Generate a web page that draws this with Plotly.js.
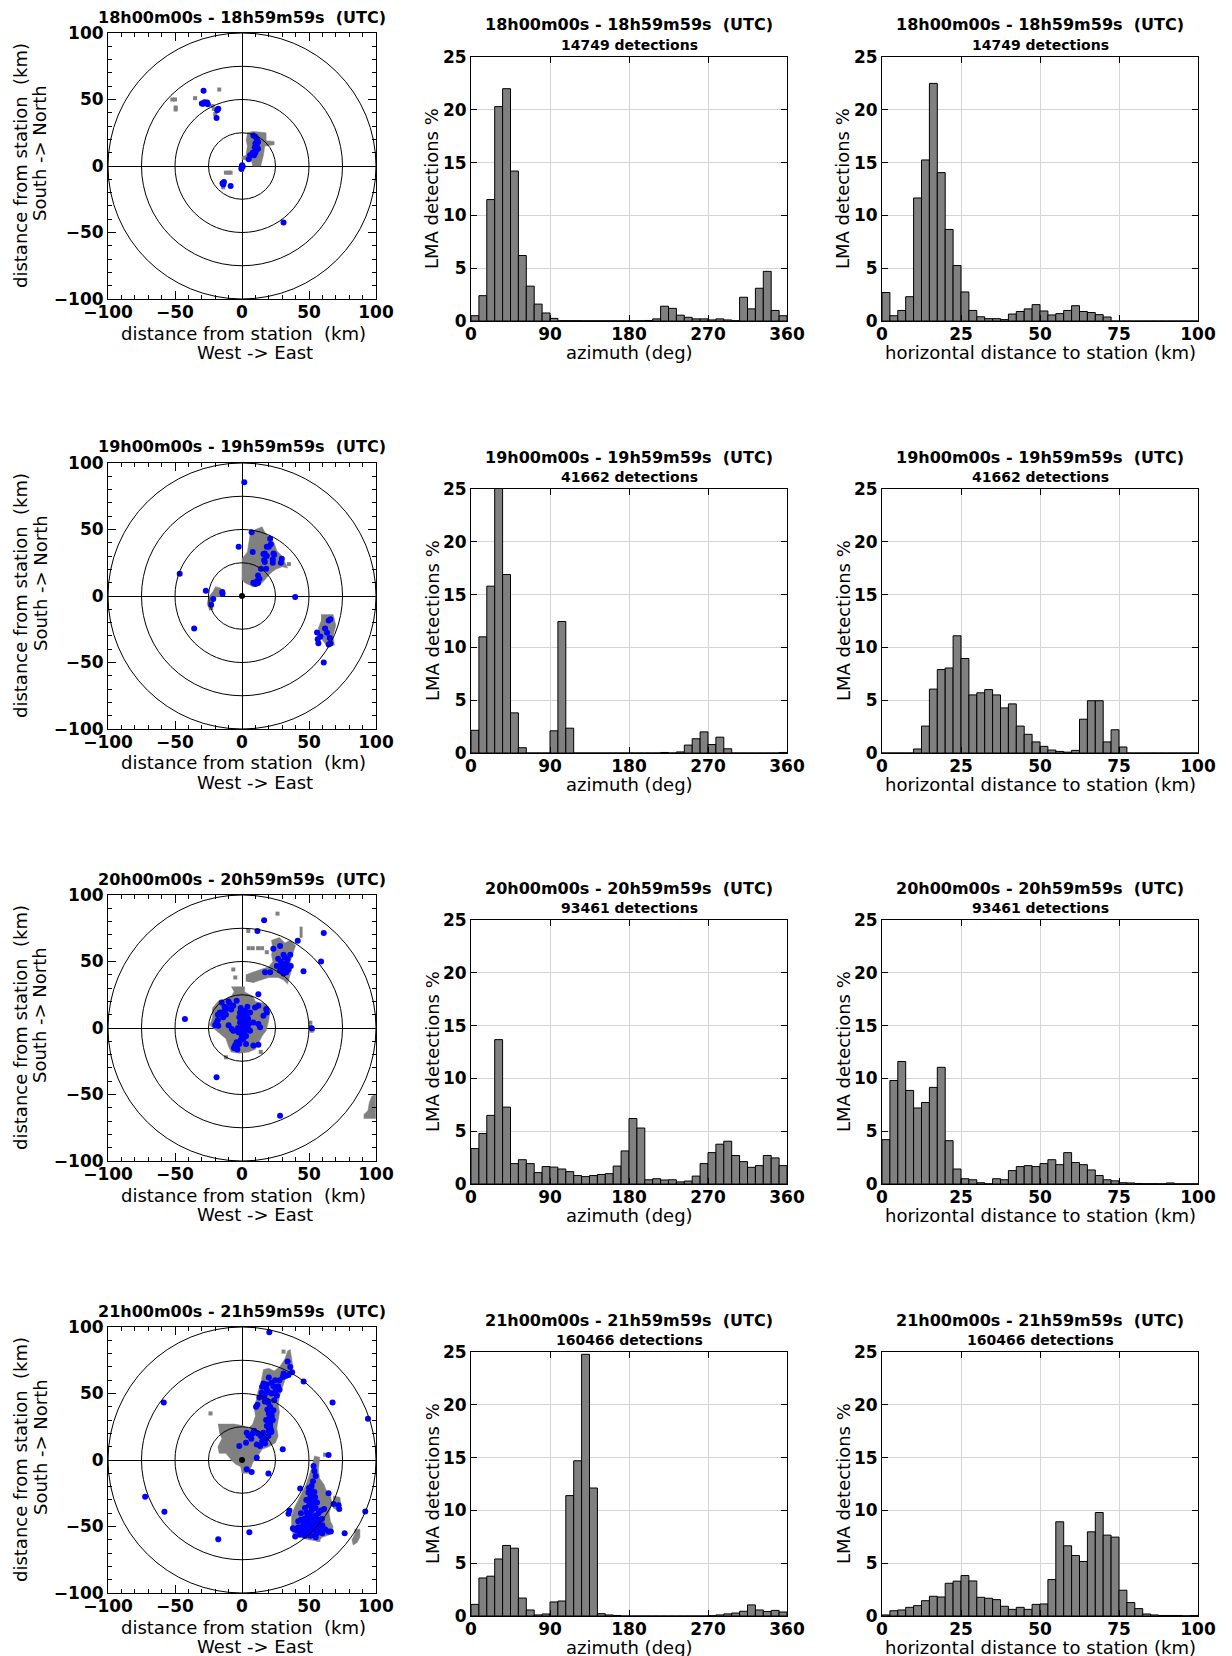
<!DOCTYPE html>
<html><head><meta charset="utf-8">
<script src="https://cdn.plot.ly/plotly-3.0.1.min.js"></script>
<style>body{margin:0;background:#fff}#chart{width:1232px;height:1656px}</style>
</head><body><div id="chart"></div>
<script>
// ---------------- DATA ----------------
const panelTitles = ['18h00m00s - 18h59m59s\u00a0 (UTC)', '19h00m00s - 19h59m59s\u00a0 (UTC)', '20h00m00s - 20h59m59s\u00a0 (UTC)', '21h00m00s - 21h59m59s\u00a0 (UTC)'];
const detectionCounts = [14749, 41662, 93461, 160466];
const ringRadii = [25, 50, 75, 100];
const mapTicks = [-100, -50, 0, 50, 100];
const azimuthTicks = [0, 90, 180, 270, 360];
const distanceTicks = [0, 25, 50, 75, 100];
const percentTicks = [0, 5, 10, 15, 20, 25];
const azimuthBinWidth = 9;     // deg
const distanceBinWidth = 2.5;  // km
const stationXY = [0, 0];
const mapXTitle = ['distance from station\u00a0 (km)', 'West -> East'];
const mapYTitle = ['distance from station\u00a0 (km)', 'South -> North'];
const azimuthTitle = 'azimuth (deg)';
const distanceTitle = 'horizontal distance to station (km)';
const percentTitle = 'LMA detections %';

// azimuth histograms (% of detections per 9 deg bin, 0..360)
const azimuth18 = [0.5,2.4,11.5,20.3,22.0,14.2,6.2,3.3,1.6,0.76, 0.25,0.03,0.03,0.03,0.02,0.02,0.02,0.02,0.02,0.02, 0.02,0.03,0.05,0.2,1.4,1.2,0.55,0.35,0.2,0.2, 0.1,0.2,0.1,0.03,2.25,1.15,3.1,4.7,1.0,0.5];
const azimuth19 = [2.15,11.0,15.8,26.0,16.9,3.8,0.5,0,0,0, 2.1,12.45,2.35,0,0,0,0,0,0,0, 0,0,0,0,0.05,0,0.1,0.75,1.35,2.0, 0.8,1.5,0.4,0,0,0,0,0,0,0.05];
const azimuth20 = [3.35,4.78,6.5,13.67,7.28,1.93,2.3,1.93,1.08,1.65, 1.6,1.42,1.17,0.8,0.7,0.8,0.9,0.98,1.7,3.13, 6.2,5.3,0.4,0.5,0.38,0.4,0.2,0.28,0.75,1.93, 2.97,3.77,4.05,2.7,2.12,1.58,1.74,2.7,2.47,1.74];
const azimuth21 = [1.1,3.6,3.77,5.4,6.68,6.42,1.7,0.57,0.1,0.19, 1.33,1.42,11.4,14.7,24.78,12.12,0.22,0.1,0.05,0, 0,0,0,0,0,0,0,0,0,0, 0.03,0.1,0.2,0.28,0.45,1.05,0.57,0.42,0.53,0.38];

// horizontal distance histograms (% per 2.5 km bin, 0..100)
const distance18 = [2.7,0.5,1.0,2.3,11.65,15.25,22.5,14.05,8.67,5.25, 2.75,1.0,0.4,0.22,0.22,0.13,0.66,0.9,1.15,1.55, 0.95,0.57,0.7,1.0,1.45,0.9,0.8,0.6,0.38,0, 0,0,0,0,0,0,0,0,0,0];
const distance19 = [0,0,0,0,0.38,2.55,6.05,7.9,8.05,11.1, 8.95,5.5,5.7,6.0,5.5,4.27,4.65,2.55,1.77,1.05, 0.63,0.28,0.15,0.08,0.25,3.2,4.95,4.95,1.05,2.2, 0.57,0,0,0,0,0,0,0,0,0];
const distance20 = [4.2,9.8,11.6,8.86,7.2,7.72,9.15,11.05,4.1,1.42, 0.5,0.4,0.12,0.02,0.5,0.4,1.27,1.65,1.74,1.65, 1.93,2.3,1.83,2.97,2.03,1.83,1.33,0.8,0.4,0.3, 0.12,0.1,0.05,0.03,0.03,0.02,0.1,0.02,0.02,0.02];
const distance21 = [0.1,0.5,0.57,0.82,0.98,1.45,1.87,1.8,3.1,3.3, 3.83,3.32,1.77,1.68,1.55,0.92,0.63,0.82,0.63,1.1, 1.14,3.45,8.92,6.65,5.73,5.16,7.97,9.8,7.66,7.47, 2.44,1.27,0.7,0.19,0.1,0.05,0.05,0.05,0.02,0.05];

// map: blue source points (km east, km north)
const blue18 = [[-28.7,56.5],[-30,47],[-28,48],[-27,47.5],[-25.5,46.5],[-26,47.8],[-29,46.8],[-17.7,43],[-18.5,42],[-19,36],[0.2,0.5],[-0.5,-2],[0.5,-0.5],[8.5,23],[10,22],[11,20.5],[10,17],[9.5,14],[10.5,12],[8,10],[6,8],[5,5],[9,8],[12,13],[11,15],[10,10],[12,18],[-14.5,-13],[-13.5,-12],[-14,-14],[-8.5,-15],[31,-42.5]];
const blue19 = [[1.7,85.5],[7.2,48],[-2.5,37],[-46.5,16.7],[-27,4],[-14.7,3],[-14.5,1.7],[-21.5,-2.2],[-23,-6.5],[-35.7,-24.5],[39.7,-0.7],[21,43],[21.5,39],[18.5,37],[20,37],[23.5,32],[24,31],[16,31.5],[17,32],[18.5,30],[16.5,27],[17,25.5],[23,27.5],[23,25],[29.7,28],[29,25],[8,33],[14.2,20.5],[18,20.5],[12,15.5],[13,13],[11,11],[10,9],[8.5,10],[11,9.5],[12,10],[56,-27.5],[56.5,-32.5],[57,-35.5],[58.5,-30.5],[62,-24.5],[63.5,-27.7],[64.7,-18.5],[66,-17.5],[65.5,-31.5],[66,-35.7],[64.7,-36.5],[61,-50]];
const blue20 = [[16.5,81],[11.5,73],[61,71.5],[41.6,65.6],[28.4,61.6],[23.4,59.6],[59,50],[45.9,42.6],[31,55],[32,53],[27,52],[33.4,49],[29.7,47],[26,46.6],[32,45.4],[34.7,44],[28.4,43],[31,41],[36,55],[34,51.6],[29,50],[36.4,46.6],[33,42],[30,44],[32,48],[34,46],[17.2,42],[21,42],[12.2,25.4],[-15.2,19.2],[-9,18],[-4,20.4],[-6.5,16.7],[-11.5,14.2],[-16.5,11.7],[-19,4.2],[-17.7,1.7],[-14,8],[-12,10],[-7.7,-0.7],[-6.5,-2],[-1.5,4.2],[2.2,13],[3.5,9.2],[4.7,6.7],[2.2,3],[1,-0.7],[-0.2,-5.7],[-4,-10.7],[-5.2,-13.2],[-3.5,-16.2],[1,-8.2],[3.5,1.7],[8.5,4.2],[12.2,3],[13.5,0.5],[9.7,15.5],[12.2,16.7],[16,9.2],[18,14.2],[18.5,11.7],[8.5,-13.2],[12.2,-12.5],[6,11.7],[-1.5,11.7],[1,9.2],[4.7,-0.7],[-2.7,-3.2],[-18,6],[-13,16],[0,0],[2,-3],[-2,8],[0,6],[2,6],[-3,0],[0,-3],[-1,-9],[-2,-12],[-4,-14],[-6,-15],[3,-6],[-10,2],[-14,12],[-8,14],[-10,20],[-18,10],[-20,2],[4,16],[6,-2],[3,-12],[-1,15],[0,12],[5,3],[-42.6,6.7],[52,-0.2],[-19,-37],[28.4,-66]];
const blue21 = [[20.4,96],[34,74],[37.4,66],[30.4,62.4],[33,63.4],[34.7,64],[46,59],[20,62],[24.7,60],[16,57.5],[18.5,56.7],[23.5,55.5],[27,55.5],[28,52.9],[14.7,50.5],[17,49],[16,47.5],[18.5,53],[20,51],[26,48.5],[11.5,41.6],[10.5,40],[19.7,43],[21,40],[23.5,37.5],[22,35],[22.2,33],[20,31],[19.7,29],[21,27],[18.5,25.5],[21.5,23],[20,22],[16,20.5],[19.7,18],[17,16],[15,14],[3.5,20.5],[4.7,18.5],[3,13],[6,18],[8,20],[11,11.7],[13.5,10.5],[17.2,12.5],[-2,10.5],[30.4,8],[11,1.7],[3.5,-7],[7.2,-9],[19.7,-10.2],[18,45],[17,44],[19,38],[20,35],[21,25],[22,21],[18,16],[14,18],[12,20],[9,22],[7,16],[18,30],[23,30],[24,45],[22,50],[25,52],[13,47],[15,55],[22,58],[28,60],[31,65],[36,70],[-58.4,43.3],[94,31],[67.6,43.3],[64.6,3.7],[-72.3,-27.7],[-57.9,-39],[-17.7,-59.6],[5.5,-54.4],[92,-38.7],[76.6,-55],[66.3,-53.8],[53.4,-4.5],[54,-8.2],[52,-19.4],[49.6,-24.4],[52,-27],[54.6,-28],[51,-30.6],[53.4,-31.8],[43.4,-21.4],[64.6,-25],[61.3,-36.8],[68.3,-33],[72,-34],[72.6,-36.8],[35.4,-38],[34.7,-40.5],[38,-51.4],[39.7,-57.6],[51,-56.9],[54.6,-56.9],[52,-38],[48.4,-39.4],[54.6,-41.9],[49.6,-44.4],[53.4,-46.9],[57,-48],[46,-49.3],[42,-50.5],[51,-51.8],[58.6,-51.8],[48.6,-53],[43.6,-53],[55.8,-44.4],[59.6,-44.4],[38.4,-51.8],[64.6,-53.8],[50,-34],[52,-23],[50,-47],[47,-52],[53,-53],[56,-50],[45,-54],[55,-36],[51,-42],[56,-55],[40,-52],[44,-45],[46,-47],[48,-48],[50,-50],[52,-49],[54,-51],[56,-53],[58,-50],[60,-49],[57,-45],[53,-43],[49,-41],[47,-44],[45,-50],[41,-53],[43,-56],[47,-57],[50,-55],[55,-58],[60,-55],[62,-52],[53,-34],[51,-28],[54,-24],[50,-21],[53,-16],[55,-12],[48,-30],[56,-32],[52,-36],[57,-40],[59,-38],[47,-36],[44,-40],[42,-46]];

// map: grey density regions (polygons) and isolated grey cells
const grayRegions18 = [
  [[4,25],[8,26],[18,25],[18,19],[24,18.5],[24,16],[17,15],[16,8],[14,0],[8,0],[7,4],[0,5],[0,7],[3,8],[4,15],[3,20]]
];
const grayCells18 = [[-52,50],[-50,50],[-49.5,44],[-49.5,42.5],[-35,51],[-17,57.5],[-22,45],[-21,43],[-20,39],[-12,-5],[-10,-5],[-8.5,-5],[-14,-16],[-15,-13],[0,-3]];
const grayRegions19 = [
  [[0,12],[0,28],[4,33],[5,40],[6,46],[10,50],[15,52],[17,48],[20,45],[24,40],[26,34],[30,30],[34,21],[30,22],[25,20],[21,17],[17,12],[13,8],[8,7],[4,9],[2,10]],
  [[-20,7],[-16,6],[-14,3],[-15,0],[-20,-1],[-22,-6],[-24,-11],[-26,-6],[-25,-1],[-22,3]],
  [[59,-14],[68,-14],[70,-22],[68,-30],[69,-37],[63,-37],[60,-33],[57,-31],[57,-24],[59,-19]]
];
const grayCells19 = [[-23,-9],[35,24]];
const grayRegions20 = [
  [[-8,31],[2,31],[2,27],[8,24],[10,20],[18,18],[21,14],[20,6],[18,-2],[15,-6],[12,-12],[10,-16],[5,-18],[-2,-19],[-8,-18],[-10,-14],[-12,-8],[-20,-1],[-24,2],[-22,8],[-22,15],[-18,20],[-12,22],[-8,24],[-6,27]],
  [[3,35],[3,40],[8,42],[16,45],[20,46],[23,50],[22,55],[23,60],[22,66],[28,68],[32,64],[36,66],[40,62],[38,56],[36,50],[37,44],[36,40],[34,33],[31,36],[27,38],[20,38],[14,36],[8,34]],
  [[43,76],[45,76],[45,68],[43,68]],
  [[99.7,-50],[99.7,-68],[91,-68],[91,-65],[94,-62],[95,-56],[97,-51]]
];
const grayCells20 = [[5,60],[8,60],[12,60],[15,60],[4.7,73],[26.5,86],[-6.5,44],[-5,38],[51,4],[51,1],[52,-2],[53,-1],[18.5,57],[-12,-22],[14,-18]];
const grayRegions21 = [
  [[-18,27],[-6,27],[0,26],[5,24],[8,27],[10,33],[9,40],[11,46],[12,52],[14,57],[15,63],[16,68],[20,69],[24,67],[28,70],[32,76],[34,82],[36,83],[37,77],[38,70],[36,64],[32,60],[30,54],[28,48],[27,42],[28,36],[27,30],[26,24],[27,18],[25,13],[20,10],[15,8],[12,3],[8,-2],[5,-10],[0,-10],[-1,-5],[-5,-3],[-8,0],[-12,5],[-17,5],[-18,10],[-15,16],[-17,21]],
  [[54,3],[58,2],[57,-8],[58,-14],[61,-18],[63,-23],[66,-26],[67,-32],[65,-40],[66,-46],[68,-50],[66,-56],[60,-58],[57,-61],[50,-60],[42,-58],[38,-56],[37,-48],[37,-42],[39,-36],[42,-30],[45,-24],[48,-18],[50,-12],[52,-6],[53,-1]],
  [[68,-27],[73,-28],[74,-34],[72,-38],[68,-36]],
  [[84,-52],[88,-52],[88,-58],[86,-62],[83,-64],[82,-60],[84,-56]]
];
const grayCells21 = [[-23.5,35],[31,81.5],[62,4],[57,-60]];

// ---------------- BUILD ----------------
const maps = [
  {blue: blue18, regions: grayRegions18, cells: grayCells18},
  {blue: blue19, regions: grayRegions19, cells: grayCells19},
  {blue: blue20, regions: grayRegions20, cells: grayCells20},
  {blue: blue21, regions: grayRegions21, cells: grayCells21}
];
const azimuths = [azimuth18, azimuth19, azimuth20, azimuth21];
const distances = [distance18, distance19, distance20, distance21];

const W = 1232, H = 1656;
const FONT = 'DejaVu Sans';
const GREY = '#808080';
const mapTop = [33, 463, 895, 1327], mapX = [108, 376], mapH = 266;
const histTop = [57, 489, 920, 1352], histH = 264;
const histX = [[471, 787], [882, 1198]];

const traces = [];
const layout = {
  width: W, height: H, margin: {l: 0, r: 0, t: 0, b: 0},
  paper_bgcolor: '#fff', plot_bgcolor: '#fff', showlegend: false,
  font: {family: FONT, color: '#000'},
  shapes: [], annotations: []
};
const sfx = i => (i === 1 ? '' : String(i));
const xd = (a, b) => [a / W, b / W];
const yd = (top, h) => [1 - (top + h) / H, 1 - top / H];
const px = v => v / W, py = v => 1 - v / H;
const tickFont = {family: FONT, size: 17, weight: 700, color: '#000'};
const labFont = {family: FONT, size: 18, color: '#000'};

function label(x, y, text, angle, font) {
  layout.annotations.push({xref: 'paper', yref: 'paper', x: px(x), y: py(y), text: text,
    showarrow: false, xanchor: 'center', yanchor: 'middle', textangle: angle || 0,
    borderpad: 0, font: font || labFont});
}

function baseAxis() {
  return {
    showline: true, linecolor: '#000', linewidth: 1, mirror: 'allticks',
    ticks: 'inside', tickcolor: '#000', tickwidth: 1, tickfont: tickFont,
    tickmode: 'array', automargin: false, fixedrange: true
  };
}

for (let r = 0; r < 4; r++) {
  // ---- map panel ----
  const mi = r * 3 + 1, mx = 'x' + sfx(mi), my = 'y' + sfx(mi);
  const m = maps[r];
  m.regions.forEach(poly => traces.push({
    type: 'scatter', mode: 'lines', x: poly.map(p => p[0]), y: poly.map(p => p[1]),
    fill: 'toself', fillcolor: GREY, line: {width: 0.5, color: GREY},
    xaxis: mx, yaxis: my, hoverinfo: 'skip'
  }));
  traces.push({type: 'scatter', mode: 'markers', x: m.cells.map(p => p[0]), y: m.cells.map(p => p[1]),
    marker: {symbol: 'square', size: 4, color: GREY}, xaxis: mx, yaxis: my, hoverinfo: 'skip'});
  traces.push({type: 'scatter', mode: 'markers', x: [stationXY[0]], y: [stationXY[1]],
    marker: {size: 6, color: '#000'}, xaxis: mx, yaxis: my, hoverinfo: 'skip'});
  traces.push({type: 'scatter', mode: 'markers', x: m.blue.map(p => p[0]), y: m.blue.map(p => p[1]),
    marker: {size: 6, color: '#0000ff', line: {width: 0}}, xaxis: mx, yaxis: my});
  ringRadii.forEach(rad => layout.shapes.push({
    type: 'circle', xref: mx, yref: my, x0: -rad, x1: rad, y0: -rad, y1: rad,
    line: {color: '#000', width: 1}, layer: 'above'
  }));
  const minorTicks = {tickmode: 'linear', tick0: 0, dtick: 10, ticks: 'inside', ticklen: 4, tickcolor: '#000', showgrid: false};
  layout['xaxis' + sfx(mi)] = Object.assign(baseAxis(), {
    domain: xd(mapX[0], mapX[1]), anchor: my, range: [-100, 100], tickvals: mapTicks, ticklen: 8,
    zeroline: true, zerolinecolor: '#000', zerolinewidth: 1, showgrid: false, minor: minorTicks,
    ticklabelstandoff: -2
  });
  layout['yaxis' + sfx(mi)] = Object.assign(baseAxis(), {
    domain: yd(mapTop[r], mapH), anchor: mx, range: [-100, 100], tickvals: mapTicks, ticklen: 8,
    zeroline: true, zerolinecolor: '#000', zerolinewidth: 1, showgrid: false, minor: minorTicks
  });
  const t0 = mapTop[r];
  label(243, t0 + 300, mapXTitle[0]);
  label(255, t0 + 319, mapXTitle[1]);
  label(20, t0 + 133, mapYTitle[0], -90);
  label(40, t0 + 120, mapYTitle[1], -90);
  label((mapX[0] + mapX[1]) / 2, t0 - 16, '<b>' + panelTitles[r] + '</b>', 0, {family: FONT, size: 16, color: '#000'});

  // ---- histograms ----
  [[azimuths[r], azimuthBinWidth, [0, 360], azimuthTicks, azimuthTitle],
   [distances[r], distanceBinWidth, [0, 100], distanceTicks, distanceTitle]]
  .forEach((h, c) => {
    const hi = r * 3 + 2 + c, hx = 'x' + sfx(hi), hy = 'y' + sfx(hi);
    traces.push({type: 'bar', y: h[0], x0: h[1] / 2, dx: h[1], width: h[1],
      marker: {color: GREY, line: {color: '#000', width: 1}}, xaxis: hx, yaxis: hy});
    layout['xaxis' + sfx(hi)] = Object.assign(baseAxis(), {
      domain: xd(histX[c][0], histX[c][1]), anchor: hy, range: h[2], tickvals: h[3], ticklen: 6,
      showgrid: true, gridcolor: '#d4d4d4', gridwidth: 1, zeroline: false, ticklabelstandoff: -2
    });
    layout['yaxis' + sfx(hi)] = Object.assign(baseAxis(), {
      domain: yd(histTop[r], histH), anchor: hx, range: [0, 25], tickvals: percentTicks, ticklen: 6,
      showgrid: true, gridcolor: '#d4d4d4', gridwidth: 1, zeroline: false
    });
    const cx = (histX[c][0] + histX[c][1]) / 2, t = histTop[r];
    label(cx, t + 295, h[4]);
    label(histX[c][0] - 39, t + 132, percentTitle, -90);
    label(cx, t - 32, '<b>' + panelTitles[r] + '</b>', 0, {family: FONT, size: 16, color: '#000'});
    label(cx, t - 12, '<b>' + detectionCounts[r] + ' detections</b>', 0, {family: FONT, size: 14, color: '#000'});
  });
}
layout.bargap = 0;

Plotly.newPlot('chart', traces, layout, {staticPlot: true, displayModeBar: false});
</script></body></html>
